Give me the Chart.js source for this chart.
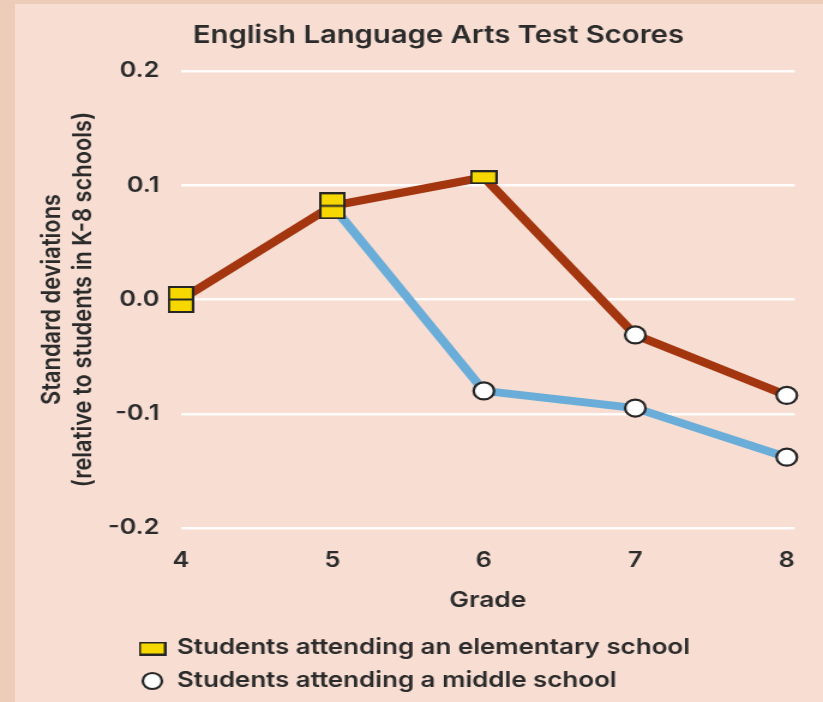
<!DOCTYPE html>
<html>
<head>
<meta charset="utf-8">
<script src="https://cdn.jsdelivr.net/npm/chart.js@4.4.1/dist/chart.umd.min.js"></script>
<style>
  html, body { margin: 0; padding: 0; background: #f7ddd2; }
  #frame { position: relative; width: 823px; height: 702px; overflow: hidden; background: #f7ddd2; }
  #frame::before { content: ""; position: absolute; left: 0; top: 0; width: 15px; height: 702px; background: #edcdb9; }
  #frame::after { content: ""; position: absolute; left: 0; top: 0; width: 823px; height: 4px; background: #edcdb9; }
  #scores { position: absolute; left: 0; top: 0; }
</style>
</head>
<body>
<div id="frame">
  <!-- the source picture is stretched sideways, so the canvas is drawn narrow and widened by css -->
  <canvas id="scores" width="686" height="702" style="width:823px;height:702px"></canvas>
</div>
<script>
const chartTitle = "English Language Arts Test Scores";
const yTitle = ["Standard deviations", "(relative to students in K-8 schools)"];
const xTitle = "Grade";
const legendLabels = ["Students attending an elementary school", "Students attending a middle school"];

const grades = [4, 5, 6, 7, 8];
const yTicks = [-0.2, -0.1, 0.0, 0.1, 0.2];

// red path: elementary school through grade 6, then middle school
const elementaryPath = [0.0, 0.082, 0.107, -0.031, -0.084];
const elementaryMarks = ["double", "double", "single", "circle", "circle"];
// blue path: switches to a middle school in grade 6
const middlePath = [null, 0.082, -0.080, -0.095, -0.138];
const middleMarks = ["none", "none", "circle", "circle", "circle"];

const yellow = "#f6d800";
const ink = "#262626";
const textInk = "#2b2b2b";
const family = "Inter";
const weight = 600;

// pick a font size so a string spans a given width
const probe = document.createElement("canvas").getContext("2d");
function fitSize(text, width) {
    probe.font = `${weight} 100px ${family}`;
    return Math.round(1000 * width / probe.measureText(text).width) / 10;
}
const titleSize = fitSize(chartTitle, 409);
const legendSize = fitSize(legendLabels[0], 428);
const axisTitleSize = fitSize(yTitle[1], 375);
const tickSize = fitSize("0.2", 33);

function makeRect(w, h, parts) {
    const c = document.createElement("canvas");
    c.width = w;
    c.height = h;
    const g = c.getContext("2d");
    g.fillStyle = yellow;
    g.fillRect(0, 0, w, h);
    g.strokeStyle = ink;
    g.lineWidth = 2;
    g.strokeRect(1, 1, w - 2, h - 2);
    if (parts === 2) {
        g.beginPath();
        g.moveTo(0, h / 2);
        g.lineTo(w, h / 2);
        g.stroke();
    }
    return c;
}

const rectOne = makeRect(23, 14, 1);
const rectTwo = makeRect(22, 27, 2);

const styleOf = m => m === "double" ? rectTwo : m === "single" ? rectOne : "circle";
const radiusOf = m => m === "none" ? 0 : 8.5;
const points = vals => grades.map((g, i) => ({ x: g, y: vals[i] }));

const titleAndLegend = {
    id: "titleAndLegend",
    afterDraw(chart) {
        const ctx = chart.ctx;
        ctx.save();
        ctx.fillStyle = textInk;
        ctx.textBaseline = "alphabetic";
        ctx.font = `${weight} ${titleSize}px ${family}`;
        ctx.textAlign = "center";
        ctx.fillText(chartTitle, 365.4, 43);

        ctx.font = `${weight} ${legendSize}px ${family}`;
        ctx.textAlign = "left";
        ctx.drawImage(rectOne, 127 - rectOne.width / 2, 648.5 - rectOne.height / 2);
        ctx.fillText(legendLabels[0], 147.5, 654);

        ctx.beginPath();
        ctx.arc(127, 681, 8, 0, Math.PI * 2);
        ctx.fillStyle = "#ffffff";
        ctx.fill();
        ctx.lineWidth = 2.2;
        ctx.strokeStyle = ink;
        ctx.stroke();
        ctx.fillStyle = textInk;
        ctx.fillText(legendLabels[1], 147.5, 687);
        ctx.restore();
    }
};

new Chart(document.getElementById("scores"), {
    type: "line",
    data: {
        datasets: [
            {
                label: "Elementary through grade 6",
                data: points(elementaryPath),
                borderColor: "#a3350f",
                borderWidth: 8,
                pointStyle: elementaryMarks.map(styleOf),
                pointRadius: elementaryMarks.map(radiusOf),
                pointBackgroundColor: "#ffffff",
                pointBorderColor: ink,
                pointBorderWidth: 2.2,
                clip: false
            },
            {
                label: "Middle school from grade 6",
                data: points(middlePath),
                borderColor: "#6aadd9",
                borderWidth: 8,
                pointStyle: middleMarks.map(styleOf),
                pointRadius: middleMarks.map(radiusOf),
                pointBackgroundColor: "#ffffff",
                pointBorderColor: ink,
                pointBorderWidth: 2.2,
                clip: false
            }
        ]
    },
    options: {
        responsive: false,
        devicePixelRatio: 1,
        animation: false,
        events: [],
        layout: { padding: { left: 0, right: 23.5, top: 71, bottom: 80 } },
        plugins: {
            legend: { display: false },
            title: { display: false },
            tooltip: { enabled: false }
        },
        scales: {
            x: {
                type: "linear",
                min: 4,
                max: 8.053,
                afterBuildTicks: s => { s.ticks = grades.map(v => ({ value: v })); },
                afterFit: s => { s.height = 94; },
                grid: { display: false },
                border: { display: false },
                ticks: {
                    padding: 12,
                    color: textInk,
                    font: { family: family, size: tickSize, weight: weight }
                },
                title: {
                    display: true,
                    text: xTitle,
                    color: textInk,
                    font: { family: family, size: axisTitleSize, weight: weight },
                    padding: { top: 0, bottom: 8 }
                }
            },
            y: {
                min: -0.2,
                max: 0.2,
                afterBuildTicks: s => { s.ticks = yTicks.map(v => ({ value: v })); },
                afterFit: s => { s.width = 150.8; },
                grid: { color: "rgba(255,255,255,0.9)", lineWidth: 2.5, drawTicks: false },
                border: { display: false },
                ticks: {
                    padding: 18,
                    color: textInk,
                    font: { family: family, size: tickSize, weight: weight },
                    callback: v => v.toFixed(1)
                },
                title: {
                    display: true,
                    text: yTitle,
                    color: textInk,
                    font: { family: family, size: axisTitleSize, weight: weight },
                    padding: { top: 30.5, bottom: 0 }
                }
            }
        }
    },
    plugins: [titleAndLegend]
});
</script>
</body>
</html>
